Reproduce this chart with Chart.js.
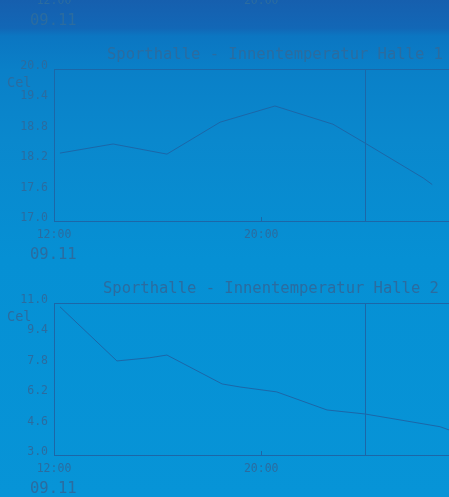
<!DOCTYPE html>
<html>
<head>
<meta charset="utf-8">
<script src="https://cdn.jsdelivr.net/npm/chart.js@4.4.1/dist/chart.umd.min.js"></script>
<style>
  html, body { margin: 0; padding: 0; width: 449px; height: 497px; overflow: hidden; }
  body {
    position: relative;
    background: linear-gradient(to bottom, #165fae 0px, #1267b6 28px, #0b76c2 36px, #0a80c8 70px,
                #0a88cd 140px, #0690d4 260px, #0794d7 497px);
  }
  canvas { position: absolute; left: 0; width: 470px; height: 234px; }
</style>
</head>
<body>
<canvas id="chart0" width="470" height="234" style="top:-200px"></canvas>
<canvas id="chart1" width="470" height="234" style="top:34px"></canvas>
<canvas id="chart2" width="470" height="234" style="top:268px"></canvas>

<script>
// time axis (hours since 00:00 on 09.11, > 24 = next day)
const xTicks      = [12, 20];
const xTickLabels = ['12:00', '20:00'];
const dateLabel   = '09.11';
const midnight    = 24;

// Halle chart 1
const title1  = 'Sporthalle - Innentemperatur Halle 1';
const hours1  = [12.23, 14.28, 16.36, 18.41, 20.53, 22.77, 24.0, 26.25, 26.6];
const temp1   = [18.34, 18.52, 18.32, 18.95, 19.27, 18.91, 18.54, 17.85, 17.72];
const yTicks1 = [17.0, 17.6, 18.2, 18.8, 19.4, 20.0];

// Halle chart 2
const title2  = 'Sporthalle - Innentemperatur Halle 2 ';
const hours2  = [12.23, 14.43, 15.7, 16.36, 18.49, 19.18, 20.6, 22.54, 24.0, 26.9, 27.25];
const temp2   = [10.8, 7.95, 8.12, 8.26, 6.74, 6.58, 6.32, 5.37, 5.16, 4.49, 4.32];
const yTicks2 = [3.0, 4.6, 6.2, 7.8, 9.4, 11.0];

// chart above, only its time labels are in view
const title0  = 'Sporthalle - Innentemperatur';
const hours0  = [];
const temp0   = [];
const yTicks0 = [0, 1];

const inkColor  = '#2b6ca0';
const lineColor = '#1c67a8';
const mono      = '"DejaVu Sans Mono", monospace';

const rrdFrame = {
  id: 'rrdFrame',
  afterDatasetsDraw(chart, args, opts) {
    const { ctx } = chart;
    const { left, right, top, bottom } = chart.chartArea;
    const x = chart.scales.x;

    ctx.save();
    ctx.strokeStyle = lineColor;
    ctx.lineWidth = 1;
    ctx.strokeRect(Math.round(left) + 0.5, Math.round(top) + 0.5,
                   Math.round(right - left), Math.round(bottom - top));

    // midnight marker
    const mx = Math.round(x.getPixelForValue(midnight)) + 0.5;
    ctx.beginPath();
    ctx.moveTo(mx, top);
    ctx.lineTo(mx, bottom);
    // small inward tick at the inner time label
    const tx = Math.round(x.getPixelForValue(xTicks[1])) + 0.5;
    ctx.moveTo(tx, bottom - 4);
    ctx.lineTo(tx, bottom);
    ctx.stroke();

    ctx.fillStyle = inkColor;
    ctx.textBaseline = 'alphabetic';
    ctx.textAlign = 'left';
    ctx.font = '15.5px ' + mono;
    ctx.fillText(opts.title, opts.titleX, top - 10);
    ctx.fillText(dateLabel, 30, bottom + 38);
    ctx.font = '13.5px ' + mono;
    ctx.fillText('Cel', 7, top + 17.5);
    ctx.restore();
  }
};

const makeChart = (id, hours, temps, yTicks, title, titleX) => {
  const ctx = document.getElementById(id).getContext('2d');
  return new Chart(ctx, {
    type: 'line',
    data: {
      datasets: [{
        data: hours.map((h, i) => ({ x: h, y: temps[i] })),
        borderColor: lineColor,
        borderWidth: 1,
        pointRadius: 0,
        tension: 0,
        fill: false,
      }],
    },
    options: {
      responsive: false,
      animation: false,
      devicePixelRatio: 1,
      layout: { padding: { top: 35, left: 0, right: 15, bottom: 0 } },
      plugins: {
        legend: { display: false },
        title: { display: false },
        tooltip: { enabled: false },
        rrdFrame: { title, titleX },
      },
      scales: {
        x: {
          type: 'linear',
          min: 12,
          max: 27.48,
          afterBuildTicks: s => { s.ticks = xTicks.map(v => ({ value: v })); },
          afterFit: s => { s.height = 47; },
          grid: { display: false, drawTicks: false },
          border: { display: false },
          ticks: {
            autoSkip: false,
            maxRotation: 0,
            padding: 7,
            color: inkColor,
            font: { family: mono, size: 11.5 },
            callback: v => xTickLabels[xTicks.indexOf(v)],
          },
        },
        y: {
          min: yTicks[0],
          max: yTicks[yTicks.length - 1],
          afterBuildTicks: s => { s.ticks = yTicks.map(v => ({ value: v })); },
          afterFit: s => { s.width = 54; },
          grid: { display: false, drawTicks: false },
          border: { display: false },
          ticks: {
            padding: 6,
            labelOffset: -3,
            color: inkColor,
            font: { family: mono, size: 11.5 },
            callback: v => v.toFixed(1),
          },
        },
      },
    },
    plugins: [rrdFrame],
  });
};

makeChart('chart0', hours0, temp0, yTicks0, title0, 107);
makeChart('chart1', hours1, temp1, yTicks1, title1, 107);
makeChart('chart2', hours2, temp2, yTicks2, title2, 103);
</script>
</body>
</html>
